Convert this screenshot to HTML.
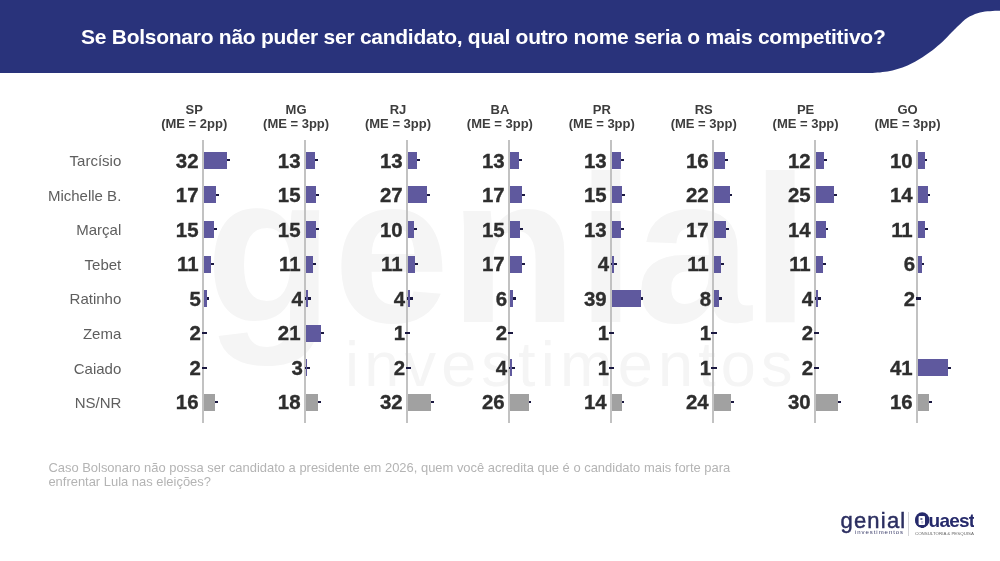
<!DOCTYPE html>
<html lang="pt-BR"><head><meta charset="utf-8"><title>Pesquisa Genial/Quaest</title>
<style>
*{margin:0;padding:0;box-sizing:border-box}
html,body{width:1000px;height:561px;overflow:hidden;background:#fff}
body{position:relative;font-family:"Liberation Sans",Arial,sans-serif}
.a{position:absolute;line-height:1;white-space:nowrap}
.t{color:#fff;font-weight:700;font-size:21px;letter-spacing:-0.26px}
.h{font-weight:700;font-size:13px;color:#3d3d3d;text-align:center;width:100px}
.v{font-weight:700;font-size:20.4px;color:#2e2e2e;text-align:right;width:40px;-webkit-text-stroke:0.35px #2e2e2e}
.l{font-size:15px;color:#5e5e5e;text-align:right;width:110px}
.ax{position:absolute;width:2.4px;background:#c2c2c2}
.b{position:absolute}
.e{position:absolute;height:2.2px;background:#1a1840}
.f{font-size:12.95px;color:#b4b4b4;line-height:14.6px}
.wm{color:#f5f5f5}
</style></head><body>

<svg class="a" style="left:0;top:0" width="1000" height="80" viewBox="0 0 1000 80"><path d="M0 0H1000 L1000.0 10.70 L997.5 10.73 L995.0 10.82 L992.5 10.95 L990.0 11.13 L987.5 11.35 L985.0 11.60 L982.5 11.91 L980.0 12.44 L977.5 13.19 L975.0 14.11 L972.5 15.16 L970.0 16.31 L967.5 17.72 L965.0 19.60 L962.5 21.79 L960.0 24.18 L957.5 26.61 L955.0 28.96 L952.5 31.42 L950.0 34.01 L947.5 36.65 L945.0 39.25 L942.5 41.70 L940.0 43.95 L937.5 46.10 L935.0 48.17 L932.5 50.15 L930.0 52.05 L927.5 53.85 L925.0 55.57 L922.5 57.24 L920.0 58.84 L917.5 60.36 L915.0 61.76 L912.5 63.05 L910.0 64.26 L907.5 65.41 L905.0 66.49 L902.5 67.48 L900.0 68.35 L897.5 69.08 L895.0 69.77 L892.5 70.40 L890.0 70.96 L887.5 71.44 L885.0 71.82 L882.5 72.10 L880.0 72.38 L877.5 72.62 L875.0 72.82 L872.5 72.95 L870.0 73.00 L867.5 73.00 L865.0 73.00 L862.5 73.00 L860.0 73.00 L0 73Z" fill="#29337b"/></svg>
<div class="a t" style="left:81px;top:26.2px">Se Bolsonaro não puder ser candidato, qual outro nome seria o mais competitivo?</div>
<div class="a wm" style="left:205.5px;top:145.1px;font-size:209px;font-weight:700">genial</div>
<div class="a wm" style="left:345px;top:333.2px;font-size:63px;letter-spacing:5.2px">investimentos</div>
<div class="a h" style="left:144.2px;top:102.6px">SP</div>
<div class="a h" style="left:144.2px;top:117.0px">(ME = 2pp)</div>
<div class="a h" style="left:246.1px;top:102.6px">MG</div>
<div class="a h" style="left:246.1px;top:117.0px">(ME = 3pp)</div>
<div class="a h" style="left:348.0px;top:102.6px">RJ</div>
<div class="a h" style="left:348.0px;top:117.0px">(ME = 3pp)</div>
<div class="a h" style="left:449.9px;top:102.6px">BA</div>
<div class="a h" style="left:449.9px;top:117.0px">(ME = 3pp)</div>
<div class="a h" style="left:551.8px;top:102.6px">PR</div>
<div class="a h" style="left:551.8px;top:117.0px">(ME = 3pp)</div>
<div class="a h" style="left:653.7px;top:102.6px">RS</div>
<div class="a h" style="left:653.7px;top:117.0px">(ME = 3pp)</div>
<div class="a h" style="left:755.6px;top:102.6px">PE</div>
<div class="a h" style="left:755.6px;top:117.0px">(ME = 3pp)</div>
<div class="a h" style="left:857.5px;top:102.6px">GO</div>
<div class="a h" style="left:857.5px;top:117.0px">(ME = 3pp)</div>
<div class="ax" style="left:201.60px;top:140px;height:283px"></div>
<div class="ax" style="left:303.63px;top:140px;height:283px"></div>
<div class="ax" style="left:405.66px;top:140px;height:283px"></div>
<div class="ax" style="left:507.69px;top:140px;height:283px"></div>
<div class="ax" style="left:609.72px;top:140px;height:283px"></div>
<div class="ax" style="left:711.75px;top:140px;height:283px"></div>
<div class="ax" style="left:813.78px;top:140px;height:283px"></div>
<div class="ax" style="left:915.81px;top:140px;height:283px"></div>
<div class="a l" style="left:11.3px;top:153.2px">Tarcísio</div>
<div class="e" style="left:224.52px;top:159.2px;width:5.4px"></div>
<div class="b" style="left:204.00px;top:151.8px;width:23.12px;height:17.0px;background:#5f599e"></div>
<div class="a v" style="left:158.5px;top:150.6px">32</div>
<div class="e" style="left:312.11px;top:159.2px;width:5.4px"></div>
<div class="b" style="left:306.03px;top:151.8px;width:8.68px;height:17.0px;background:#5f599e"></div>
<div class="a v" style="left:260.5px;top:150.6px">13</div>
<div class="e" style="left:414.14px;top:159.2px;width:5.4px"></div>
<div class="b" style="left:408.06px;top:151.8px;width:8.68px;height:17.0px;background:#5f599e"></div>
<div class="a v" style="left:362.6px;top:150.6px">13</div>
<div class="e" style="left:516.17px;top:159.2px;width:5.4px"></div>
<div class="b" style="left:510.09px;top:151.8px;width:8.68px;height:17.0px;background:#5f599e"></div>
<div class="a v" style="left:464.6px;top:150.6px">13</div>
<div class="e" style="left:618.20px;top:159.2px;width:5.4px"></div>
<div class="b" style="left:612.12px;top:151.8px;width:8.68px;height:17.0px;background:#5f599e"></div>
<div class="a v" style="left:566.6px;top:150.6px">13</div>
<div class="e" style="left:722.51px;top:159.2px;width:5.4px"></div>
<div class="b" style="left:714.15px;top:151.8px;width:10.96px;height:17.0px;background:#5f599e"></div>
<div class="a v" style="left:668.7px;top:150.6px">16</div>
<div class="e" style="left:821.50px;top:159.2px;width:5.4px"></div>
<div class="b" style="left:816.18px;top:151.8px;width:7.92px;height:17.0px;background:#5f599e"></div>
<div class="a v" style="left:770.7px;top:150.6px">12</div>
<div class="e" style="left:922.01px;top:159.2px;width:5.4px"></div>
<div class="b" style="left:918.21px;top:151.8px;width:6.40px;height:17.0px;background:#5f599e"></div>
<div class="a v" style="left:872.7px;top:150.6px">10</div>
<div class="a l" style="left:11.3px;top:187.7px">Michelle B.</div>
<div class="e" style="left:213.12px;top:193.8px;width:5.4px"></div>
<div class="b" style="left:204.00px;top:186.4px;width:11.72px;height:17.0px;background:#5f599e"></div>
<div class="a v" style="left:158.5px;top:185.1px">17</div>
<div class="e" style="left:313.63px;top:193.8px;width:5.4px"></div>
<div class="b" style="left:306.03px;top:186.4px;width:10.20px;height:17.0px;background:#5f599e"></div>
<div class="a v" style="left:260.5px;top:185.1px">15</div>
<div class="e" style="left:424.78px;top:193.8px;width:5.4px"></div>
<div class="b" style="left:408.06px;top:186.4px;width:19.32px;height:17.0px;background:#5f599e"></div>
<div class="a v" style="left:362.6px;top:185.1px">27</div>
<div class="e" style="left:519.21px;top:193.8px;width:5.4px"></div>
<div class="b" style="left:510.09px;top:186.4px;width:11.72px;height:17.0px;background:#5f599e"></div>
<div class="a v" style="left:464.6px;top:185.1px">17</div>
<div class="e" style="left:619.72px;top:193.8px;width:5.4px"></div>
<div class="b" style="left:612.12px;top:186.4px;width:10.20px;height:17.0px;background:#5f599e"></div>
<div class="a v" style="left:566.6px;top:185.1px">15</div>
<div class="e" style="left:727.07px;top:193.8px;width:5.4px"></div>
<div class="b" style="left:714.15px;top:186.4px;width:15.52px;height:17.0px;background:#5f599e"></div>
<div class="a v" style="left:668.7px;top:185.1px">22</div>
<div class="e" style="left:831.38px;top:193.8px;width:5.4px"></div>
<div class="b" style="left:816.18px;top:186.4px;width:17.80px;height:17.0px;background:#5f599e"></div>
<div class="a v" style="left:770.7px;top:185.1px">25</div>
<div class="e" style="left:925.05px;top:193.8px;width:5.4px"></div>
<div class="b" style="left:918.21px;top:186.4px;width:9.44px;height:17.0px;background:#5f599e"></div>
<div class="a v" style="left:872.7px;top:185.1px">14</div>
<div class="a l" style="left:11.3px;top:222.3px">Marçal</div>
<div class="e" style="left:211.60px;top:228.3px;width:5.4px"></div>
<div class="b" style="left:204.00px;top:220.9px;width:10.20px;height:17.0px;background:#5f599e"></div>
<div class="a v" style="left:158.5px;top:219.7px">15</div>
<div class="e" style="left:313.63px;top:228.3px;width:5.4px"></div>
<div class="b" style="left:306.03px;top:220.9px;width:10.20px;height:17.0px;background:#5f599e"></div>
<div class="a v" style="left:260.5px;top:219.7px">15</div>
<div class="e" style="left:411.86px;top:228.3px;width:5.4px"></div>
<div class="b" style="left:408.06px;top:220.9px;width:6.40px;height:17.0px;background:#5f599e"></div>
<div class="a v" style="left:362.6px;top:219.7px">10</div>
<div class="e" style="left:517.69px;top:228.3px;width:5.4px"></div>
<div class="b" style="left:510.09px;top:220.9px;width:10.20px;height:17.0px;background:#5f599e"></div>
<div class="a v" style="left:464.6px;top:219.7px">15</div>
<div class="e" style="left:618.20px;top:228.3px;width:5.4px"></div>
<div class="b" style="left:612.12px;top:220.9px;width:8.68px;height:17.0px;background:#5f599e"></div>
<div class="a v" style="left:566.6px;top:219.7px">13</div>
<div class="e" style="left:723.27px;top:228.3px;width:5.4px"></div>
<div class="b" style="left:714.15px;top:220.9px;width:11.72px;height:17.0px;background:#5f599e"></div>
<div class="a v" style="left:668.7px;top:219.7px">17</div>
<div class="e" style="left:823.02px;top:228.3px;width:5.4px"></div>
<div class="b" style="left:816.18px;top:220.9px;width:9.44px;height:17.0px;background:#5f599e"></div>
<div class="a v" style="left:770.7px;top:219.7px">14</div>
<div class="e" style="left:922.77px;top:228.3px;width:5.4px"></div>
<div class="b" style="left:918.21px;top:220.9px;width:7.16px;height:17.0px;background:#5f599e"></div>
<div class="a v" style="left:872.7px;top:219.7px">11</div>
<div class="a l" style="left:11.3px;top:256.8px">Tebet</div>
<div class="e" style="left:208.56px;top:262.9px;width:5.4px"></div>
<div class="b" style="left:204.00px;top:255.5px;width:7.16px;height:17.0px;background:#5f599e"></div>
<div class="a v" style="left:158.5px;top:254.2px">11</div>
<div class="e" style="left:310.59px;top:262.9px;width:5.4px"></div>
<div class="b" style="left:306.03px;top:255.5px;width:7.16px;height:17.0px;background:#5f599e"></div>
<div class="a v" style="left:260.5px;top:254.2px">11</div>
<div class="e" style="left:412.62px;top:262.9px;width:5.4px"></div>
<div class="b" style="left:408.06px;top:255.5px;width:7.16px;height:17.0px;background:#5f599e"></div>
<div class="a v" style="left:362.6px;top:254.2px">11</div>
<div class="e" style="left:519.21px;top:262.9px;width:5.4px"></div>
<div class="b" style="left:510.09px;top:255.5px;width:11.72px;height:17.0px;background:#5f599e"></div>
<div class="a v" style="left:464.6px;top:254.2px">17</div>
<div class="e" style="left:611.36px;top:262.9px;width:5.4px"></div>
<div class="b" style="left:612.12px;top:255.5px;width:1.84px;height:17.0px;background:#5f599e"></div>
<div class="a v" style="left:569.0px;top:254.2px">4</div>
<div class="e" style="left:718.71px;top:262.9px;width:5.4px"></div>
<div class="b" style="left:714.15px;top:255.5px;width:7.16px;height:17.0px;background:#5f599e"></div>
<div class="a v" style="left:668.7px;top:254.2px">11</div>
<div class="e" style="left:820.74px;top:262.9px;width:5.4px"></div>
<div class="b" style="left:816.18px;top:255.5px;width:7.16px;height:17.0px;background:#5f599e"></div>
<div class="a v" style="left:770.7px;top:254.2px">11</div>
<div class="e" style="left:918.97px;top:262.9px;width:5.4px"></div>
<div class="b" style="left:918.21px;top:255.5px;width:3.36px;height:17.0px;background:#5f599e"></div>
<div class="a v" style="left:875.1px;top:254.2px">6</div>
<div class="a l" style="left:11.3px;top:291.4px">Ratinho</div>
<div class="e" style="left:204.00px;top:297.4px;width:5.4px"></div>
<div class="b" style="left:204.00px;top:290.0px;width:2.60px;height:17.0px;background:#5f599e"></div>
<div class="a v" style="left:160.9px;top:288.8px">5</div>
<div class="e" style="left:305.27px;top:297.4px;width:5.4px"></div>
<div class="b" style="left:306.03px;top:290.0px;width:1.84px;height:17.0px;background:#5f599e"></div>
<div class="a v" style="left:262.9px;top:288.8px">4</div>
<div class="e" style="left:407.30px;top:297.4px;width:5.4px"></div>
<div class="b" style="left:408.06px;top:290.0px;width:1.84px;height:17.0px;background:#5f599e"></div>
<div class="a v" style="left:365.0px;top:288.8px">4</div>
<div class="e" style="left:510.85px;top:297.4px;width:5.4px"></div>
<div class="b" style="left:510.09px;top:290.0px;width:3.36px;height:17.0px;background:#5f599e"></div>
<div class="a v" style="left:467.0px;top:288.8px">6</div>
<div class="e" style="left:637.96px;top:297.4px;width:5.4px"></div>
<div class="b" style="left:612.12px;top:290.0px;width:28.44px;height:17.0px;background:#5f599e"></div>
<div class="a v" style="left:566.6px;top:288.8px">39</div>
<div class="e" style="left:716.43px;top:297.4px;width:5.4px"></div>
<div class="b" style="left:714.15px;top:290.0px;width:4.88px;height:17.0px;background:#5f599e"></div>
<div class="a v" style="left:671.1px;top:288.8px">8</div>
<div class="e" style="left:815.42px;top:297.4px;width:5.4px"></div>
<div class="b" style="left:816.18px;top:290.0px;width:1.84px;height:17.0px;background:#5f599e"></div>
<div class="a v" style="left:773.1px;top:288.8px">4</div>
<div class="e" style="left:915.93px;top:297.4px;width:5.4px"></div>
<div class="a v" style="left:875.1px;top:288.8px">2</div>
<div class="a l" style="left:11.3px;top:325.9px">Zema</div>
<div class="e" style="left:201.72px;top:332.0px;width:5.4px"></div>
<div class="a v" style="left:160.9px;top:323.3px">2</div>
<div class="e" style="left:318.19px;top:332.0px;width:5.4px"></div>
<div class="b" style="left:306.03px;top:324.6px;width:14.76px;height:17.0px;background:#5f599e"></div>
<div class="a v" style="left:260.5px;top:323.3px">21</div>
<div class="e" style="left:405.02px;top:332.0px;width:5.4px"></div>
<div class="a v" style="left:365.0px;top:323.3px">1</div>
<div class="e" style="left:507.81px;top:332.0px;width:5.4px"></div>
<div class="a v" style="left:467.0px;top:323.3px">2</div>
<div class="e" style="left:609.08px;top:332.0px;width:5.4px"></div>
<div class="a v" style="left:569.0px;top:323.3px">1</div>
<div class="e" style="left:711.11px;top:332.0px;width:5.4px"></div>
<div class="a v" style="left:671.1px;top:323.3px">1</div>
<div class="e" style="left:813.90px;top:332.0px;width:5.4px"></div>
<div class="a v" style="left:773.1px;top:323.3px">2</div>
<div class="a l" style="left:11.3px;top:360.5px">Caiado</div>
<div class="e" style="left:201.72px;top:366.5px;width:5.4px"></div>
<div class="a v" style="left:160.9px;top:357.9px">2</div>
<div class="e" style="left:304.51px;top:366.5px;width:5.4px"></div>
<div class="b" style="left:306.03px;top:359.1px;width:1.08px;height:17.0px;background:#5f599e"></div>
<div class="a v" style="left:262.9px;top:357.9px">3</div>
<div class="e" style="left:405.78px;top:366.5px;width:5.4px"></div>
<div class="a v" style="left:365.0px;top:357.9px">2</div>
<div class="e" style="left:509.33px;top:366.5px;width:5.4px"></div>
<div class="b" style="left:510.09px;top:359.1px;width:1.84px;height:17.0px;background:#5f599e"></div>
<div class="a v" style="left:467.0px;top:357.9px">4</div>
<div class="e" style="left:609.08px;top:366.5px;width:5.4px"></div>
<div class="a v" style="left:569.0px;top:357.9px">1</div>
<div class="e" style="left:711.11px;top:366.5px;width:5.4px"></div>
<div class="a v" style="left:671.1px;top:357.9px">1</div>
<div class="e" style="left:813.90px;top:366.5px;width:5.4px"></div>
<div class="a v" style="left:773.1px;top:357.9px">2</div>
<div class="e" style="left:945.57px;top:366.5px;width:5.4px"></div>
<div class="b" style="left:918.21px;top:359.1px;width:29.96px;height:17.0px;background:#5f599e"></div>
<div class="a v" style="left:872.7px;top:357.9px">41</div>
<div class="a l" style="left:11.3px;top:395.0px">NS/NR</div>
<div class="e" style="left:212.36px;top:401.1px;width:5.4px"></div>
<div class="b" style="left:204.00px;top:393.7px;width:10.96px;height:17.0px;background:#a1a1a1"></div>
<div class="a v" style="left:158.5px;top:392.4px">16</div>
<div class="e" style="left:315.91px;top:401.1px;width:5.4px"></div>
<div class="b" style="left:306.03px;top:393.7px;width:12.48px;height:17.0px;background:#a1a1a1"></div>
<div class="a v" style="left:260.5px;top:392.4px">18</div>
<div class="e" style="left:428.58px;top:401.1px;width:5.4px"></div>
<div class="b" style="left:408.06px;top:393.7px;width:23.12px;height:17.0px;background:#a1a1a1"></div>
<div class="a v" style="left:362.6px;top:392.4px">32</div>
<div class="e" style="left:526.05px;top:401.1px;width:5.4px"></div>
<div class="b" style="left:510.09px;top:393.7px;width:18.56px;height:17.0px;background:#a1a1a1"></div>
<div class="a v" style="left:464.6px;top:392.4px">26</div>
<div class="e" style="left:618.96px;top:401.1px;width:5.4px"></div>
<div class="b" style="left:612.12px;top:393.7px;width:9.44px;height:17.0px;background:#a1a1a1"></div>
<div class="a v" style="left:566.6px;top:392.4px">14</div>
<div class="e" style="left:728.59px;top:401.1px;width:5.4px"></div>
<div class="b" style="left:714.15px;top:393.7px;width:17.04px;height:17.0px;background:#a1a1a1"></div>
<div class="a v" style="left:668.7px;top:392.4px">24</div>
<div class="e" style="left:835.18px;top:401.1px;width:5.4px"></div>
<div class="b" style="left:816.18px;top:393.7px;width:21.60px;height:17.0px;background:#a1a1a1"></div>
<div class="a v" style="left:770.7px;top:392.4px">30</div>
<div class="e" style="left:926.57px;top:401.1px;width:5.4px"></div>
<div class="b" style="left:918.21px;top:393.7px;width:10.96px;height:17.0px;background:#a1a1a1"></div>
<div class="a v" style="left:872.7px;top:392.4px">16</div>
<div class="a f" style="left:48.4px;top:460.6px">Caso Bolsonaro não possa ser candidato a presidente em 2026, quem você acredita que é o candidato mais forte para<br>enfrentar Lula nas eleições?</div>
<div class="a" style="left:840.5px;top:510.1px;font-size:22px;color:#2b2e60;letter-spacing:1.2px;-webkit-text-stroke:0.45px #2b2e60">genial</div>
<div class="a" style="left:855px;top:529.3px;font-size:6px;color:#3a3d6a;letter-spacing:0.95px">investimentos</div>
<div class="a" style="left:908px;top:512px;width:1px;height:24px;background:#d4d4d8"></div>
<div class="a" style="left:914.6px;top:511.4px;font-size:19px;font-weight:700;color:#262a6b;letter-spacing:-0.8px;height:16.8px;overflow:hidden">Quaest</div>
<svg class="a" style="left:913px;top:511px" width="18" height="18" viewBox="0 0 18 18"><ellipse cx="9.2" cy="9" rx="7.2" ry="7.7" fill="#262a6b"/><rect x="5.6" y="5.1" width="6.4" height="9" rx="1" fill="#fff"/><rect x="7.4" y="7" width="2" height="2" fill="#6a6c98"/><rect x="8.2" y="10" width="2" height="2.6" fill="#c8c9dc"/></svg>
<div class="a" style="left:915px;top:531.9px;font-size:4.4px;color:#666;letter-spacing:0px">CONSULTORIA &amp; PESQUISA</div>
</body></html>
